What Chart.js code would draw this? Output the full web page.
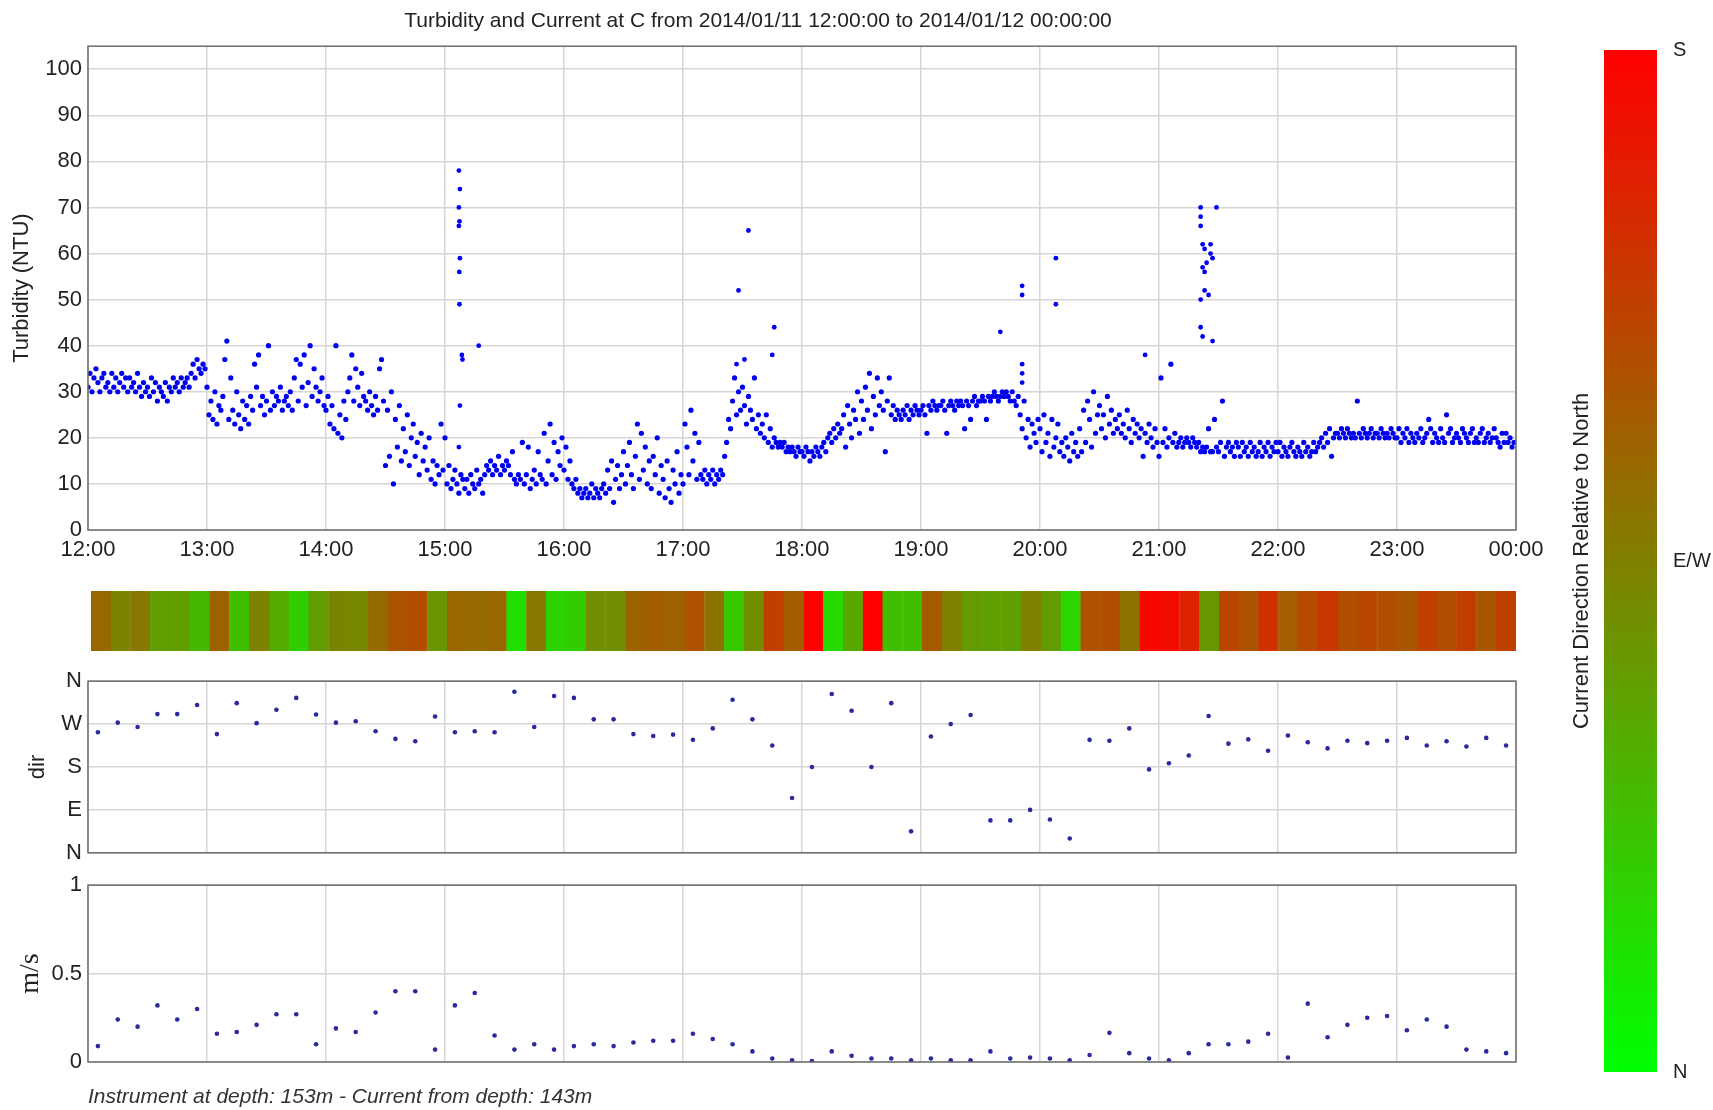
<!DOCTYPE html>
<html>
<head>
<meta charset="utf-8">
<script src="https://cdn.jsdelivr.net/npm/chart.js@4.4.1/dist/chart.umd.min.js"></script>
<style>
  body { margin: 0; background: #fff; width: 1713px; height: 1110px; position: relative; overflow: hidden; }
  canvas { position: absolute; }
</style>
</head>
<body>
<canvas id="turbChart" width="1604" height="575" style="left:0px;top:0px"></canvas>
<canvas id="bandChart" width="1604" height="72" style="left:0px;top:585px"></canvas>
<canvas id="dirChart" width="1604" height="210" style="left:0px;top:662px"></canvas>
<canvas id="speedChart" width="1604" height="244" style="left:0px;top:866px"></canvas>
<canvas id="colorBar" width="173" height="1062" style="left:1540px;top:30px"></canvas>
<script>
const titleText = 'Turbidity and Current at C from 2014/01/11 12:00:00 to 2014/01/12 00:00:00';
const footerText = 'Instrument at depth: 153m - Current from depth: 143m';
const hourLabels = ['12:00','13:00','14:00','15:00','16:00','17:00','18:00','19:00','20:00','21:00','22:00','23:00','00:00'];
const dirTickLabels = ['N','E','S','W','N'];
const colorbarLabels = ['N','E/W','S'];

// turbidity (NTU), one reading per minute, one array per hour
const turb12 = [31,34,30,33,35,32,30,33,34,31, 32,30,34,31,33,30,32,34,31,33, 30,33,31,32,30,34,31,29,32,30,
                31,29,33,30,32,28,31,30,29,32, 28,31,30,33,31,32,30,33,31,32, 33,31,34,36,33,37,35,34,36,35];
const turb13 = [31,25,28,24,30,23,27,26,29,37, 41,24,33,26,23,30,25,22,28,24, 27,23,29,26,36,31,38,27,29,25,
                28,40,26,30,27,29,28,31,26,28, 29,27,30,26,33,37,28,36,31,38, 27,32,40,29,35,31,28,30,33,27];
const turb14 = [26,29,23,27,22,40,21,25,20,28, 24,30,33,38,28,35,31,27,34,29, 28,26,30,27,25,29,26,35,37,28,
                14,26,16,30,10,24,18,27,15,22, 17,25,14,20,23,16,19,12,21,15, 18,13,20,11,15,10,14,12,23,13];
const turb15 = [20,10,14,9,11,13,10,8,12,11, 9,11,8,12,10,9,13,10,11,8, 12,14,13,15,12,14,13,16,12,14,
                13,15,14,12,17,11,10,12,11,19, 10,12,18,9,11,13,10,17,12,11, 21,10,15,23,12,19,11,17,14,20];
const turb16 = [13,18,11,15,10,9,11,8,9,7, 8,9,7,8,10,7,9,8,7,9, 10,8,13,9,15,6,11,14,9,12,
                17,10,14,19,12,9,16,23,11,21, 13,18,10,15,9,16,12,20,8,14, 11,7,15,9,6,13,10,17,8,12];
const turb17 = [10,23,18,12,26,15,21,11,19,12, 11,13,10,12,11,13,10,12,11,13, 12,16,19,24,22,28,33,25,30,26,
                31,27,23,29,26,24,33,22,25,21, 23,20,25,19,22,18,20,19,18,19, 18,19,17,18,17,18,17,16,18,17];
const turb18 = [17,16,18,17,15,17,16,18,17,16, 18,19,17,20,21,19,22,20,23,21, 22,25,18,27,23,20,26,24,30,21,
                28,24,31,26,34,22,29,25,33,27, 30,26,17,28,33,25,27,24,26,25, 24,26,25,27,24,26,25,27,26,25];
const turb19 = [26,27,25,21,27,26,28,27,26,27, 27,28,26,21,27,28,27,26,28,27, 28,27,22,28,27,24,28,29,27,28,
                28,29,28,24,29,28,29,30,29,28, 29,30,29,30,29,28,30,28,27,29, 25,22,28,20,24,18,23,21,19,24];
const turb20 = [22,17,25,19,21,16,24,18,20,23, 17,19,16,20,18,15,21,17,19,16, 22,17,26,19,28,24,18,30,21,25,
                27,22,25,20,29,23,26,21,24,22, 25,21,23,20,26,22,19,24,21,23, 20,22,16,21,19,23,20,18,22,19];
const turb21 = [16,33,19,22,18,20,36,19,21,18, 19,20,18,19,20,19,18,20,19,18, 19,17,18,17,18,22,17,17,24,18,
                17,19,28,16,18,19,17,18,16,19, 18,16,19,17,18,16,19,17,18,16, 17,19,16,18,17,19,16,18,17,19];
const turb22 = [17,19,16,18,17,16,18,19,17,16, 18,17,16,19,17,18,16,17,19,17, 18,19,20,18,21,19,22,16,20,21,
                21,20,22,21,20,22,21,20,21,20, 28,21,20,22,21,20,21,22,20,21, 21,20,22,21,20,21,20,22,21,20];
const turb23 = [20,22,19,21,20,22,19,21,20,19, 21,20,22,19,20,21,24,22,19,21, 20,19,22,20,19,25,21,22,19,20,
                21,20,19,22,21,20,19,21,22,19, 20,19,21,22,19,20,21,19,20,22, 20,19,18,21,19,21,19,20,18,19];
const turbHours = [turb12, turb13, turb14, turb15, turb16, turb17, turb18, turb19, turb20, turb21, turb22, turb23];

// isolated high readings (minutes after 12:00, NTU)
const spikeMin = [187,187.5,187,187.3,187,187.5,187.2,187.3,188.5,188.8,187.5,187,
                  197, 327,328,331,333,345,346, 460, 471,471,471,471,471, 488,488, 533,
                  561,569,561,561,562,563,566,566,562,563,564,567,563,565,561,561,562,567];
const spikeVal = [78,74,70,67,66,59,56,49,38,37,27,18,
                  40, 36,52,37,65,38,44, 43, 53,51,36,34,32, 59,49, 38,
                  70,70,68,66,62,61,62,60,57,56,58,59,52,51,50,44,42,41];

// current meter, one reading every 10 minutes starting 12:05
const dirDeg = [253,273,264,291,291,310, 249,314,272,300,325,290, 273,276,255,239,234,286,
                253,255,253,338,264,329, 325,280,280,249,245,248, 237,261,321,280,225,115,
                180,333,298,180,314,45, 244,270,289,68,68,90, 70,30,237,235,261,175,
                188,204,287,229,238,214, 246,232,219,235,230,235, 241,225,234,223,241,225];
const speed = [0.09,0.24,0.20,0.32,0.24,0.30, 0.16,0.17,0.21,0.27,0.27,0.10, 0.19,0.17,0.28,0.40,0.40,0.07,
               0.32,0.39,0.15,0.07,0.10,0.07, 0.09,0.10,0.09,0.11,0.12,0.12, 0.16,0.13,0.10,0.06,0.02,0.01,
               0.005,0.06,0.035,0.02,0.02,0.01, 0.02,0.01,0.01,0.06,0.02,0.025, 0.02,0.01,0.04,0.165,0.05,0.02,
               0.01,0.05,0.10,0.10,0.115,0.16, 0.025,0.33,0.14,0.21,0.25,0.26, 0.18,0.24,0.20,0.07,0.06,0.05];

const FONT = 'Arial, "Liberation Sans", sans-serif';
Chart.defaults.font.family = FONT;
Chart.defaults.color = '#222';

const turbPoints = [];
turbHours.forEach((arr, h) => arr.forEach((v, m) => turbPoints.push({ x: h * 60 + m, y: v })));
const spikePoints = spikeMin.map((t, i) => ({ x: t, y: spikeVal[i] }));
const currentMin = dirDeg.map((d, i) => 5 + i * 10);
const dirPoints = dirDeg.map((d, i) => ({ x: currentMin[i], y: d }));
const speedPoints = speed.map((s, i) => ({ x: currentMin[i], y: s }));

// green at north, red at south
function dirColor(deg) {
  const f = Math.min(deg, 360 - deg) / 180;
  return 'rgb(' + Math.round(255 * f) + ',' + Math.round(255 * (1 - f)) + ',0)';
}

const boxPlugin = {
  id: 'box',
  afterDraw(chart) {
    const a = chart.chartArea;
    const ctx = chart.ctx;
    ctx.save();
    ctx.strokeStyle = '#6e6e6e';
    ctx.lineWidth = 1.5;
    ctx.strokeRect(a.left, a.top, a.right - a.left, a.bottom - a.top);
    ctx.restore();
  }
};

const gridStyle = { color: '#d6d6d6', lineWidth: 1.5, drawTicks: false };

function timeAxis(showLabels, height) {
  return {
    type: 'linear', min: 0, max: 720,
    ticks: { display: showLabels, stepSize: 60, autoSkip: false, maxRotation: 0,
             callback: v => hourLabels[v / 60], font: { size: 22 }, padding: 7 },
    grid: gridStyle,
    border: { display: false },
    afterFit: s => { s.height = height; }
  };
}

new Chart(document.getElementById('turbChart'), {
  type: 'scatter',
  data: {
    datasets: [
      { data: turbPoints, pointRadius: 2.6, pointBackgroundColor: '#0000f0', pointBorderWidth: 0 },
      { data: spikePoints, pointRadius: 2.4, pointBackgroundColor: '#0000f0', pointBorderWidth: 0 }
    ]
  },
  options: {
    responsive: false,
    animation: false,
    layout: { padding: { left: 0, right: 88, top: 0, bottom: 0 } },
    plugins: {
      legend: { display: false },
      tooltip: { enabled: false },
      title: { display: true, text: titleText, color: '#222',
               font: { size: 21, weight: 'normal' }, padding: { top: 9, bottom: 12 } }
    },
    scales: {
      x: timeAxis(true, 45),
      y: {
        min: 0, max: 105,
        ticks: { stepSize: 10, includeBounds: false, font: { size: 22 }, padding: 6 },
        grid: gridStyle,
        border: { display: false },
        title: { display: true, text: 'Turbidity (NTU)', font: { size: 22 }, padding: { top: 9, bottom: 0 } },
        afterFit: s => { s.width = 88; }
      }
    }
  },
  plugins: [boxPlugin]
});

new Chart(document.getElementById('bandChart'), {
  type: 'bar',
  data: {
    labels: currentMin,
    datasets: [{
      data: dirDeg.map(() => 1),
      backgroundColor: dirDeg.map(dirColor),
      borderColor: dirDeg.map(dirColor),
      borderWidth: 1,
      barPercentage: 1,
      categoryPercentage: 1
    }]
  },
  options: {
    responsive: false,
    animation: false,
    layout: { padding: { left: 91, right: 88, top: 6, bottom: 6 } },
    plugins: { legend: { display: false }, tooltip: { enabled: false } },
    scales: {
      x: { display: false },
      y: { display: false, min: 0, max: 1 }
    }
  }
});

new Chart(document.getElementById('dirChart'), {
  type: 'scatter',
  data: {
    datasets: [{ data: dirPoints, pointRadius: 2.3, pointBackgroundColor: '#2a2a9e', pointBorderWidth: 0 }]
  },
  options: {
    responsive: false,
    animation: false,
    layout: { padding: { left: 0, right: 88, top: 14, bottom: 14 } },
    plugins: { legend: { display: false }, tooltip: { enabled: false } },
    scales: {
      x: timeAxis(false, 0),
      y: {
        min: 0, max: 360,
        ticks: { stepSize: 90, callback: v => dirTickLabels[v / 90], font: { size: 22 }, padding: 6 },
        grid: gridStyle,
        border: { display: false },
        title: { display: true, text: 'dir', font: { size: 22 }, padding: { top: 25, bottom: 0 } },
        afterFit: s => { s.width = 88; }
      }
    }
  },
  plugins: [boxPlugin]
});

const speedX = timeAxis(false, 48);
speedX.title = { display: true, text: footerText, align: 'start', color: '#333',
                 font: { size: 21, style: 'italic' }, padding: { top: 0, bottom: 0 } };

new Chart(document.getElementById('speedChart'), {
  type: 'scatter',
  data: {
    datasets: [{ data: speedPoints, pointRadius: 2.3, pointBackgroundColor: '#2a2a9e', pointBorderWidth: 0 }]
  },
  options: {
    responsive: false,
    animation: false,
    layout: { padding: { left: 0, right: 88, top: 14, bottom: 0 } },
    plugins: { legend: { display: false }, tooltip: { enabled: false } },
    scales: {
      x: speedX,
      y: {
        min: 0, max: 1,
        ticks: { stepSize: 0.5, callback: v => String(v), font: { size: 22 }, padding: 6 },
        grid: gridStyle,
        border: { display: false },
        title: { display: true, text: 'm/s', font: { size: 28, family: '"Liberation Serif", "Times New Roman", serif' },
                 padding: { top: 14, bottom: 0 } },
        afterFit: s => { s.width = 88; }
      }
    }
  },
  plugins: [boxPlugin]
});

new Chart(document.getElementById('colorBar'), {
  type: 'bar',
  data: {
    labels: [''],
    datasets: [{
      data: [180],
      backgroundColor: function (context) {
        const chart = context.chart;
        const area = chart.chartArea;
        if (!area) return 'rgb(128,128,0)';
        const g = chart.ctx.createLinearGradient(0, area.bottom, 0, area.top);
        g.addColorStop(0, 'rgb(0,255,0)');
        g.addColorStop(0.5, 'rgb(128,128,0)');
        g.addColorStop(1, 'rgb(255,0,0)');
        return g;
      },
      barPercentage: 1,
      categoryPercentage: 1
    }]
  },
  options: {
    responsive: false,
    animation: false,
    layout: { padding: { left: 0, right: 0, top: 16, bottom: 16 } },
    plugins: { legend: { display: false }, tooltip: { enabled: false } },
    scales: {
      x: { display: false },
      y: {
        position: 'right', min: 0, max: 180,
        ticks: { stepSize: 90, callback: v => colorbarLabels[v / 90], font: { size: 20 }, padding: 8 },
        grid: { display: false },
        border: { display: false },
        afterFit: s => { s.width = 56; }
      },
      yTitle: {
        position: 'left', min: 0, max: 180,
        ticks: { display: false },
        grid: { display: false },
        border: { display: false },
        title: { display: true, text: 'Current Direction Relative to North', font: { size: 22 },
                 padding: { top: 29, bottom: 0 } },
        afterFit: s => { s.width = 64; }
      }
    }
  }
});
</script>
</body>
</html>
